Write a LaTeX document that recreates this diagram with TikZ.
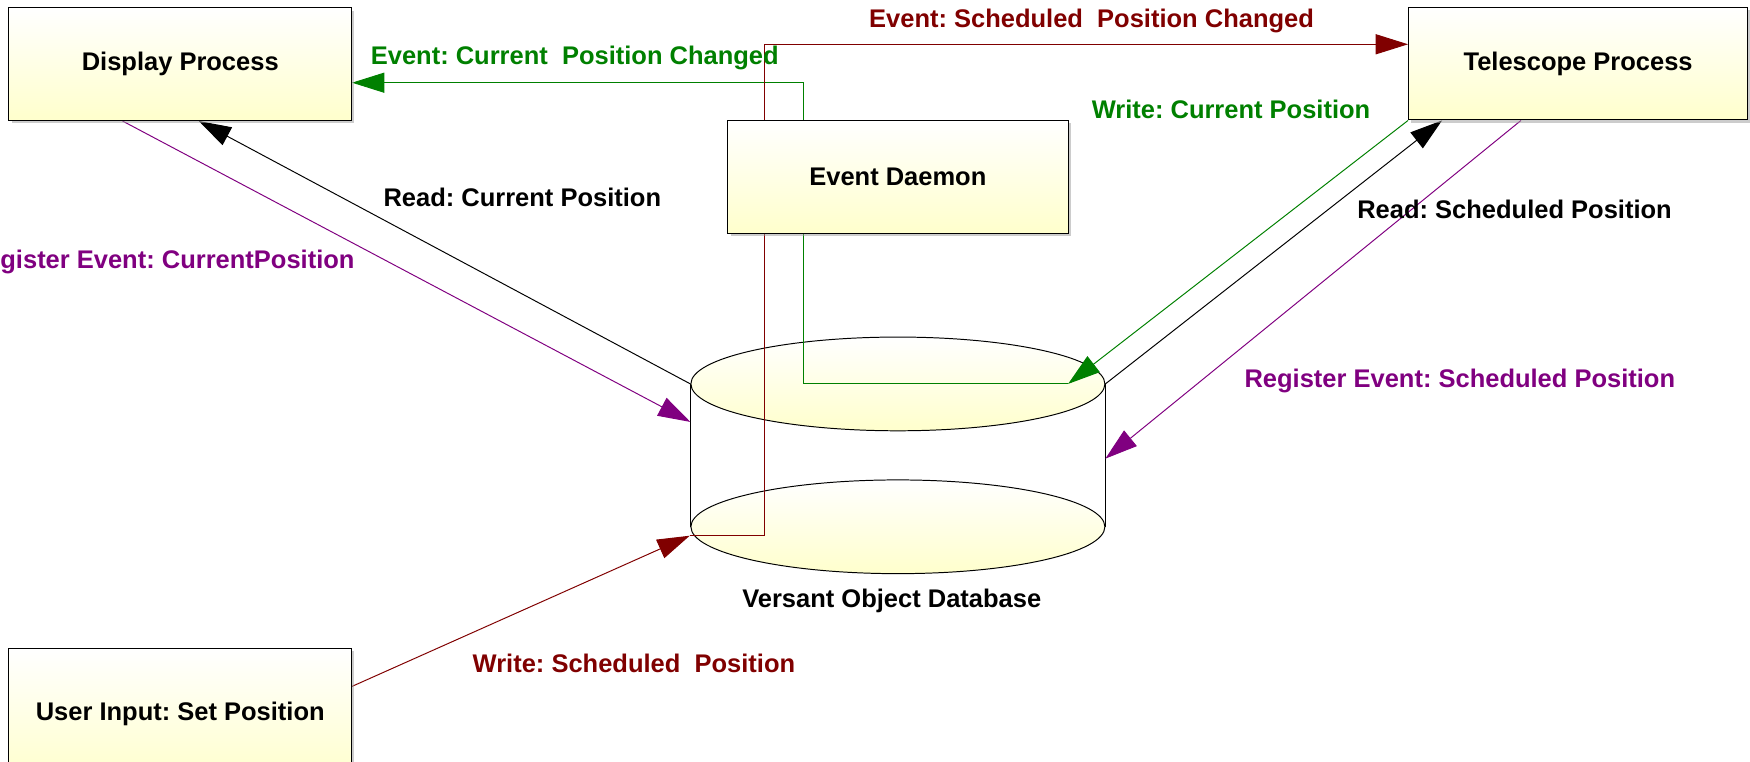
\documentclass[tikz,border=0pt]{standalone}
\usepackage{fontspec}
\setmainfont{Liberation Sans}
\usetikzlibrary{arrows.meta,shapes.geometric,shadows,calc}
\definecolor{evred}{HTML}{800000}
\definecolor{evgreen}{HTML}{008000}
\definecolor{evpurple}{HTML}{800080}
\definecolor{paleyellow}{HTML}{FFFFCC}
\pgfdeclarelayer{dblayer}
\pgfdeclarelayer{wirelayer}
\pgfsetlayers{dblayer,wirelayer,main}
\frenchspacing
\tikzset{
  procbox/.style={draw=black, line width=0.5pt, top color=white, bottom color=paleyellow,
    minimum width=6.14cm, minimum height=2.02cm, font=\fontsize{13}{15}\selectfont\bfseries,
    drop shadow={shadow xshift=0.05cm, shadow yshift=-0.05cm, fill=black!40}},
  dbdisk/.style={ellipse, draw=black, line width=0.5pt, top color=white, bottom color=paleyellow,
    minimum width=7.42cm, minimum height=1.68cm, inner sep=0pt},
  lbl/.style={font=\fontsize{13}{15}\selectfont\bfseries, inner sep=0pt},
  wire/.style={line width=0.5pt, -{Triangle[length=0.58cm, width=0.36cm]}}
}
\begin{document}
\begin{tikzpicture}[x=0.02cm, y=-0.02cm]
\useasboundingbox (0,0) rectangle (1568,682);
% the processes
\node[procbox] (disp) at (161.5,57.5) {Display Process};
\node[procbox, minimum width=6.08cm] (tele) at (1414,57) {Telescope Process};
\node[procbox, minimum width=6.1cm] (daemon) at (804.5,158.5) {Event Daemon};
\node[procbox, minimum height=2.36cm] (user) at (161.5,640) {User Input: Set Position};
% the database
\begin{pgfonlayer}{dblayer}
\node[dbdisk] (dbbot) at (804.5,472) {};
\draw[line width=0.5pt] (dbbot.west) -- ++(0,-128) coordinate (dbtl);
\draw[line width=0.5pt] (dbbot.east) -- ++(0,-128) coordinate (dbtr);
\node[dbdisk] (dbtop) at (804.5,344) {};
\end{pgfonlayer}
\node[lbl] (dblabel) at (799,538) {Versant Object Database};
\coordinate (dbhub) at (957,344);
\coordinate (dbin) at (618,480);
% reads and writes
\begin{pgfonlayer}{wirelayer}
\draw[wire] (dbtop.west) -- ($(disp.south west)!0.554!(disp.south east)$);
\draw[wire, evpurple] ($(disp.south west)!0.332!(disp.south east)$) -- ($(dbtop.west)!0.266!(dbbot.west)$);
\draw[wire] (dbtop.east) -- ($(tele.south west)!0.10!(tele.south east)$);
\draw[wire, evpurple] ($(tele.south west)!0.332!(tele.south east)$) -- ($(dbtop.east)!0.523!(dbbot.east)$);
\draw[wire, evgreen] (tele.south west) -- (dbhub);
\draw[wire, evred] ($(user.east)+(0,-25)$) -- (dbin);
% the events
\draw[wire, evgreen] (dbhub) -- ++(-237,0) |- ($(disp.north east)!0.663!(disp.south east)$);
\draw[wire, evred] (dbin) -- ++(67,0) |- ($(tele.north west)!0.33!(tele.south west)$);
\end{pgfonlayer}
% the labels
\node[lbl, evred] (evsched) at (978,19) {Event: Scheduled~~Position Changed};
\node[lbl, evgreen] (evcur) at (515,52) {Event: Current~~Position Changed};
\node[lbl, evgreen] (wrcur) at (1103,98) {Write: Current Position};
\node[lbl] (rdcur) at (468,177) {Read: Current Position};
\node[lbl] (rdsched) at (1357,188) {Read: Scheduled Position};
\node[lbl, evpurple, anchor=east] (regcur) at (318,235) {Register Event: CurrentPosition};
\node[lbl, evpurple] (regsched) at (1308,341) {Register Event: Scheduled Position};
\node[lbl, evred] (wrsched) at (568,594) {Write: Scheduled~~Position};
\end{tikzpicture}
\end{document}
